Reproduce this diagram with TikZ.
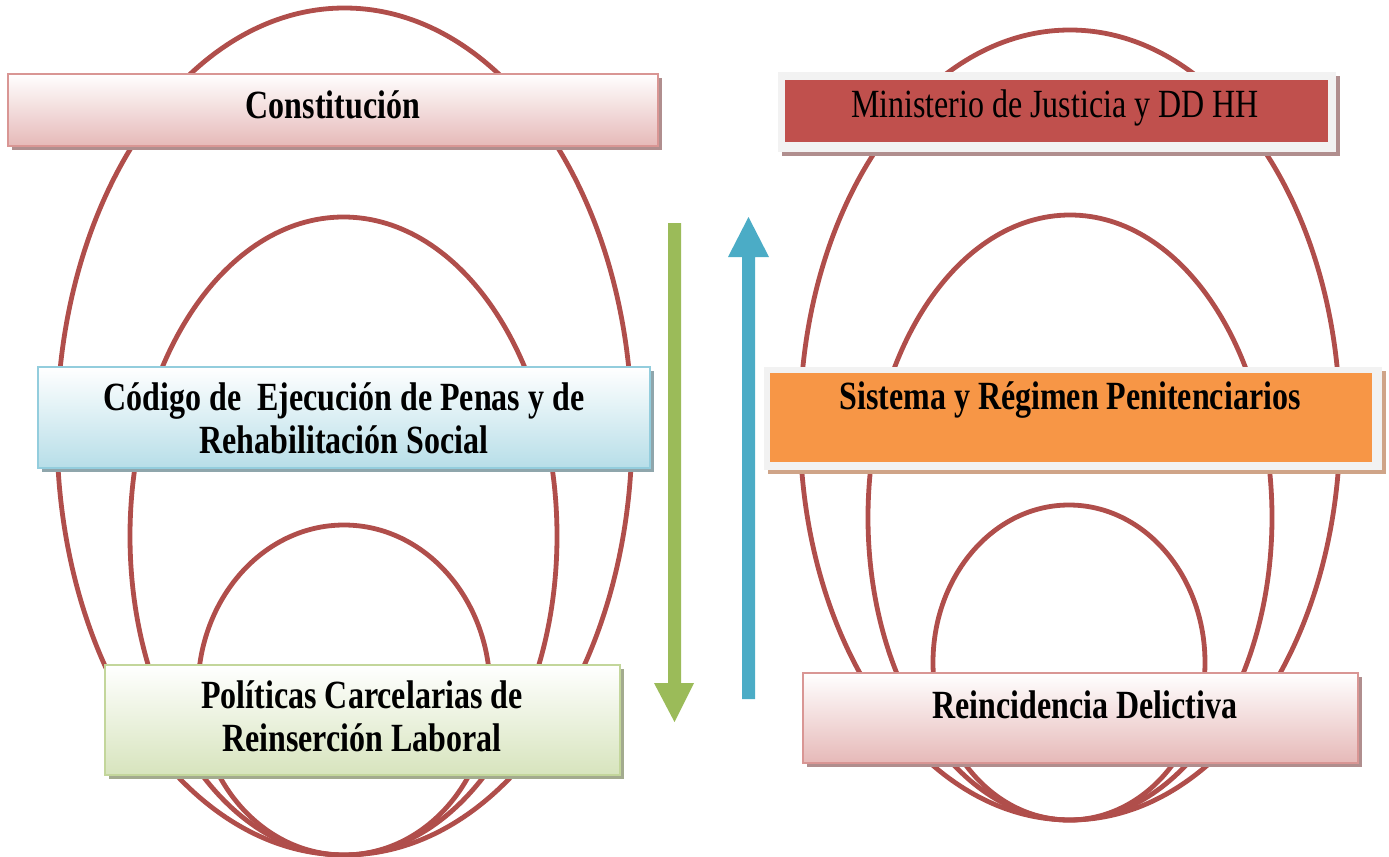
\documentclass[tikz,border=0pt]{standalone}
\usepackage{fontspec}
\newfontfamily\tnr[FakeStretch=0.8]{Liberation Serif}
\usetikzlibrary{shadows}
\definecolor{ellc}{HTML}{B04E4B}
\definecolor{pinkD}{HTML}{D99694}
\definecolor{pinkB}{HTML}{E6B9B8}
\definecolor{pinkS}{HTML}{B08E8E}
\definecolor{blueD}{HTML}{93CDDD}
\definecolor{blueB}{HTML}{B7DEE8}
\definecolor{blueS}{HTML}{8FA6AC}
\definecolor{greenD}{HTML}{C3D69B}
\definecolor{greenB}{HTML}{D7E4BD}
\definecolor{greenS}{HTML}{A3AB8E}
\definecolor{redF}{HTML}{C0504D}
\definecolor{orangeF}{HTML}{F79646}
\definecolor{frameF}{HTML}{F2F2F2}
\definecolor{orangeS}{HTML}{CFA488}
\definecolor{arrG}{HTML}{9BBB59}
\definecolor{arrB}{HTML}{4BACC6}
\tikzset{
  ell/.style={draw=ellc, line width=2.4pt},
  gbox/.style={rectangle, line width=1pt, inner sep=0pt},
  shad/.style={general shadow={fill=#1, shadow xshift=2pt, shadow yshift=-2pt}},
  txt/.style={align=center, inner sep=0pt, font=\tnr\fontsize{20}{21.5}\selectfont\bfseries},
  txtn/.style={align=center, inner sep=0pt, font=\tnr\fontsize{20}{21.5}\selectfont},
}
\begin{document}
\begin{tikzpicture}[x=0.5pt,y=-0.5pt]
\useasboundingbox (0,0) rectangle (1389,857);
% left ellipses
\draw[ell] (344.5,431.5) ellipse [x radius=287.5, y radius=423.5];
\draw[ell] (343.5,536) ellipse [x radius=213.5, y radius=319];
\draw[ell] (344,690) ellipse [x radius=146, y radius=165];
% right ellipses
\draw[ell] (1070,425) ellipse [x radius=270, y radius=395];
\draw[ell] (1070,517.5) ellipse [x radius=202, y radius=302.5];
\draw[ell] (1069,662.5) ellipse [x radius=136, y radius=157.5];
% left boxes
\node[gbox, shad=pinkS, draw=pinkD, top color=white, bottom color=pinkB,
  minimum width=325pt, minimum height=36pt] (const) at (333,110) {};
\node[txt] (constT) at (333,105) {Constitución};
\node[gbox, shad=blueS, draw=blueD, top color=white, bottom color=blueB,
  minimum width=306pt, minimum height=50.5pt] (codigo) at (344,417.5) {};
\node[txt] (codigoT) at (344,418) {Código de\ \ Ejecución de Penas y de\\Rehabilitación Social};
\node[gbox, shad=greenS, draw=greenD, top color=white, bottom color=greenB,
  minimum width=257.5pt, minimum height=55pt] (polit) at (362.5,720) {};
\node[txt] (politT) at (362,716) {Políticas Carcelarias de\\Reinserción Laboral};
% right boxes
\node[gbox, shad=pinkS, fill=frameF, draw=none,
  minimum width=279pt, minimum height=40pt] (minF) at (1057,112) {};
\node[gbox, fill=redF, draw=none,
  minimum width=271.5pt, minimum height=31pt] (min) at (1056.5,111) {};
\node[txtn] (minT) at (1055,108) {Ministerio de Justicia y DD HH};
\node[gbox, shad=orangeS, fill=frameF, draw=none,
  minimum width=309pt, minimum height=51.5pt] (sisF) at (1073,418.5) {};
\node[gbox, fill=orangeF, draw=none,
  minimum width=301pt, minimum height=44.5pt] (sis) at (1071,417.5) {};
\node[txt] (sisT) at (1070,400) {Sistema y Régimen Penitenciarios};
\node[gbox, shad=pinkS, draw=pinkD, top color=white, bottom color=pinkB,
  minimum width=277.5pt, minimum height=45pt] (reinc) at (1080.5,718) {};
\node[txt] (reincT) at (1085,705) {Reincidencia Delictiva};
% arrows
\coordinate (gTop) at (674.5,223);
\coordinate (gTip) at (674.5,722);
\fill[arrG] (668,223) -- (681,223) -- (681,683) -- (694,683) -- (gTip) -- (654,683) -- (668,683) -- cycle;
\coordinate (bTop) at (748.5,217);
\coordinate (bBot) at (748.5,699);
\fill[arrB] (742,699) -- (755,699) -- (755,257) -- (769,257) -- (bTop) -- (728,257) -- (742,257) -- cycle;
\end{tikzpicture}
\end{document}
